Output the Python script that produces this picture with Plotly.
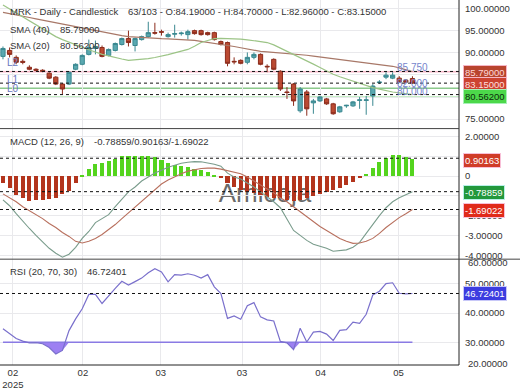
import plotly.graph_objects as go

# ---------------- data ----------------
opens = [89.20, 90.54, 88.98, 88.08, 86.74, 86.29, 86.07, 85.40, 84.50, 82.94,
         82.94, 86.29, 87.41, 89.65, 90.99, 91.21, 89.42, 90.54, 91.88, 93.23,
         91.66, 93.00, 93.67, 94.57, 94.79, 93.67, 94.23, 94.34, 94.12, 95.02,
         95.02, 94.57, 94.57, 92.55, 92.33, 88.08, 88.30, 87.86, 88.98, 89.65,
         86.96, 88.53, 85.84, 81.15, 82.94, 76.89, 81.15, 78.69, 79.13, 79.58,
         78.46, 76.67, 78.01, 78.01, 79.25, 79.25, 80.25, 83.27, 84.50, 84.28,
         84.28, 83.83, 84.19]
highs = [91.44, 91.21, 89.42, 88.53, 87.19, 86.51, 86.29, 85.62, 84.73, 83.16,
         85.84, 87.63, 89.65, 93.00, 92.78, 91.66, 90.99, 92.33, 93.45, 95.02,
         93.45, 93.90, 97.03, 96.80, 95.24, 94.57, 96.36, 94.79, 95.24, 95.24,
         95.24, 94.79, 94.79, 92.78, 92.55, 88.98, 88.53, 90.09, 90.09, 89.87,
         87.41, 88.75, 86.07, 82.26, 83.16, 82.26, 81.59, 79.58, 80.25, 79.80,
         78.69, 78.01, 78.24, 79.13, 80.03, 80.25, 82.94, 83.83, 85.62, 85.62,
         84.73, 84.05, 84.70]
lows = [88.53, 88.98, 87.41, 87.41, 86.07, 85.84, 85.62, 84.05, 82.71, 80.70,
        82.71, 86.07, 87.19, 89.42, 89.65, 88.98, 89.20, 90.32, 91.66, 91.44,
        90.32, 92.78, 93.45, 94.12, 93.90, 93.45, 93.45, 93.90, 93.00, 94.12,
        93.90, 93.90, 92.78, 91.66, 86.96, 87.41, 87.41, 87.41, 88.53, 87.19,
        85.62, 86.07, 81.37, 79.58, 78.01, 76.45, 75.78, 76.22, 78.91, 78.24,
        76.00, 76.45, 77.57, 77.79, 77.34, 76.00, 78.01, 82.94, 84.05, 84.05,
        83.16, 83.16, 82.96]
closes = [90.99, 89.65, 87.86, 87.86, 86.29, 86.07, 85.84, 84.28, 82.94, 81.82,
          85.62, 87.41, 89.42, 91.21, 91.44, 89.20, 90.77, 92.11, 93.23, 92.33,
          93.23, 93.67, 94.57, 94.46, 94.68, 94.12, 94.34, 94.46, 94.79, 94.34,
          94.12, 94.12, 93.00, 91.88, 87.63, 87.97, 87.63, 88.98, 89.65, 87.41,
          86.85, 86.29, 81.82, 81.03, 79.13, 81.82, 77.34, 79.13, 80.03, 78.46,
          76.22, 77.79, 78.13, 78.91, 79.36, 79.36, 82.49, 83.38, 84.95, 84.95,
          83.38, 83.38, 83.15]
sma40 = [99.15, 98.90, 98.60, 98.30, 98.00, 97.70, 97.40, 97.15, 96.92, 96.60,
         96.30, 96.00, 95.70, 95.40, 95.10, 94.79, 94.50, 94.20, 93.90, 93.67,
         93.55, 93.45, 93.35, 93.30, 93.20, 93.15, 93.10, 93.05, 93.00, 92.80,
         92.60, 92.40, 92.20, 91.95, 91.70, 91.44, 91.15, 90.85, 90.60, 90.32,
         90.20, 90.10, 90.00, 89.90, 89.80, 89.65, 89.45, 89.25, 89.05, 88.85,
         88.65, 88.50, 88.30, 88.10, 87.95, 87.75, 87.60, 87.40, 87.20, 86.96,
         86.60, 86.20, 85.79]
sma20 = [100.80, 99.90, 99.00, 98.10, 97.20, 96.30, 95.40, 94.50, 93.67, 93.00,
         92.40, 91.80, 91.20, 90.70, 90.20, 89.65, 89.30, 88.90, 88.60, 88.30,
         88.40, 88.50, 88.70, 88.95, 89.20, 89.60, 90.00, 90.40, 90.77, 91.50,
         92.33, 92.80, 93.23, 93.25, 93.25, 93.23, 93.10, 92.95, 92.75, 92.56,
         92.33, 91.80, 91.10, 90.40, 89.70, 88.98, 88.20, 87.45, 86.70, 85.90,
         85.17, 84.60, 84.10, 83.55, 83.00, 82.49, 82.15, 81.80, 81.45, 81.15,
         80.95, 80.75, 80.562]
macd = [-1.20, -1.50, -1.90, -2.30, -2.65, -3.00, -3.35, -3.65, -3.90, -4.10,
        -3.95, -3.60, -3.15, -2.80, -2.35, -2.15, -1.95, -1.55, -1.15, -0.80,
        -0.55, -0.25, -0.05, 0.15, 0.30, 0.45, 0.55, 0.65, 0.70, 0.73,
        0.72, 0.66, 0.60, 0.50, 0.15, -0.05, -0.15, -0.35, -0.55, -0.80,
        -1.05, -1.30, -1.60, -2.20, -2.75, -3.00, -3.25, -3.45, -3.55, -3.65,
        -3.80, -3.78, -3.73, -3.60, -3.35, -2.90, -2.43, -2.00, -1.60, -1.30,
        -1.10, -0.95, -0.78859]
signal = [-0.90, -1.10, -1.30, -1.55, -1.75, -1.95, -2.15, -2.40, -2.60, -2.85,
          -3.05, -3.30, -3.38, -3.30, -3.15, -2.95, -2.70, -2.45, -2.15, -1.85,
          -1.55, -1.25, -0.95, -0.65, -0.40, -0.20, -0.02, 0.12, 0.25, 0.32,
          0.38, 0.40, 0.40, 0.35, 0.28, 0.20, 0.12, -0.05, -0.25, -0.45,
          -0.65, -0.85, -1.10, -1.30, -1.55, -1.80, -2.05, -2.30, -2.55, -2.75,
          -2.95, -3.15, -3.30, -3.40, -3.38, -3.30, -3.15, -2.90, -2.60, -2.35,
          -2.10, -1.90, -1.69022]
hist = [-0.35, -0.60, -0.95, -1.10, -1.23, -1.18, -1.18, -1.15, -1.10, -0.90,
        -0.73, -0.35, 0.05, 0.40, 0.65, 0.68, 0.77, 0.90, 1.02, 1.02,
        1.02, 1.02, 1.02, 0.98, 0.82, 0.68, 0.57, 0.53, 0.48, 0.37,
        0.32, 0.23, 0.07, -0.05, -0.35, -0.52, -0.68, -0.77, -0.85, -0.93,
        -1.02, -1.07, -1.10, -1.18, -1.23, -1.18, -1.10, -0.97, -0.90, -0.77,
        -0.68, -0.57, -0.43, -0.27, -0.03, 0.15, 0.43, 0.73, 0.95, 1.10,
        1.08, 1.00, 0.90163]
rsi = [34.6, 33.0, 31.3, 30.4, 29.8, 29.9, 29.5, 28.2, 26.0, 27.2,
       34.0, 38.0, 41.5, 46.4, 46.4, 43.3, 46.0, 48.5, 50.9, 49.6,
       50.8, 52.0, 53.8, 55.2, 54.1, 50.7, 53.2, 53.0, 53.5, 53.0,
       52.0, 53.2, 49.0, 46.7, 38.2, 39.0, 37.9, 42.5, 43.6, 38.7,
       37.7, 37.3, 30.3, 29.8, 27.5, 34.8, 30.1, 33.5, 33.7, 32.8,
       30.6, 34.1, 34.3, 36.9, 36.5, 39.6, 46.2, 47.5, 50.1, 50.4,
       46.8, 46.6, 46.72401]
rsi_low = 30
level_values = [85.75, 82.0, 80.0]
level_names = ["L2", "L1", "L0"]
tick_pos = [1.5, 12.1, 23.9, 36.2, 48.1, 59.9]
tick_text = ["02<br>2025", "02", "03", "03", "04", "05"]
price_ticks = [75, 80, 85, 90, 95, 100]
price_hidden = [80, 85]          # labels covered by the value boxes
macd_ticks = [-4, -3, -2, -1, 0, 1, 2]
macd_hidden = [-1, 1]            # labels covered by the value boxes
rsi_ticks = [30, 40, 50]
rsi_extra_ticks = [60, 20]
symbol = "MRK"
bars_shown, bars_total = 63, 103

# ---------------- geometry ----------------
W, H = 520, 390
ML, MR, MT, MB = 0, 61, 0, 21
PW, PH = W - ML - MR, H - MT - MB
FONT = "Liberation Sans, Arial, sans-serif"
FS = 9.5


def px_x(x):
    return (x - ML) / PW


def px_y(y):
    return (PH - (y - MT)) / PH


d_price = [px_y(130), 1]
d_macd = [px_y(262), px_y(130)]
d_rsi = [0, px_y(262)]

n = len(closes)
idx = list(range(n))

fig = go.Figure()

# price panel
fig.add_trace(go.Candlestick(
    x=idx, open=opens, high=highs, low=lows, close=closes,
    xaxis="x", yaxis="y",
    increasing=dict(line=dict(color="#3a8890", width=1), fillcolor="#5aa8b0"),
    decreasing=dict(line=dict(color="#8c2c1c", width=1), fillcolor="#bb4a32"),
    whiskerwidth=0, showlegend=False, hoverinfo="skip"))
fig.add_trace(go.Scatter(x=idx, y=sma40, mode="lines", xaxis="x", yaxis="y",
                         line=dict(color="#a87868", width=1.2), showlegend=False))
fig.add_trace(go.Scatter(x=idx, y=sma20, mode="lines", xaxis="x", yaxis="y",
                         line=dict(color="#9cc486", width=1.2), showlegend=False))

# MACD panel
hist_colors = ["#54d41e" if v >= 0 else "#b3341c" for v in hist]
fig.add_trace(go.Bar(x=idx, y=hist, xaxis="x2", yaxis="y2", width=0.62,
                     marker=dict(color=hist_colors, line=dict(width=0)),
                     showlegend=False))
fig.add_trace(go.Scatter(x=idx, y=macd, mode="lines", xaxis="x2", yaxis="y2",
                         line=dict(color="#7a9c8c", width=1.1), showlegend=False))
fig.add_trace(go.Scatter(x=idx, y=signal, mode="lines", xaxis="x2", yaxis="y2",
                         line=dict(color="#b8705e", width=1.1), showlegend=False))

# RSI panel
fig.add_trace(go.Scatter(x=idx, y=[rsi_low] * n, mode="lines", xaxis="x3", yaxis="y3",
                         line=dict(color="#8a7ae4", width=1.5), showlegend=False))
fig.add_trace(go.Scatter(x=idx, y=[min(v, rsi_low) for v in rsi], mode="lines",
                         xaxis="x3", yaxis="y3", fill="tonexty",
                         fillcolor="#9d80f2", line=dict(width=0), showlegend=False))
fig.add_trace(go.Scatter(x=idx, y=rsi, mode="lines", xaxis="x3", yaxis="y3",
                         line=dict(color="#7a70cc", width=1.2), showlegend=False))

grid = "#e9e9ec"
xcommon = dict(range=[-0.45, 69.05], showgrid=True, gridcolor=grid, zeroline=False,
               tickvals=tick_pos, showline=False, ticks="")
yfont = dict(size=FS, color="#333", family=FONT)
ycommon = dict(side="right", showgrid=True, gridcolor=grid, zeroline=False,
               showline=False, ticks="", tickfont=yfont, ticklabelstandoff=5)


def fmt(v, hidden=()):
    if v in hidden:
        return ""
    return "0" if v == 0 else f"{v:.5f}"


fig.update_layout(
    width=W, height=H, margin=dict(l=ML, r=MR, t=MT, b=MB),
    paper_bgcolor="white", plot_bgcolor="white", showlegend=False,
    font=dict(family=FONT, size=FS, color="#333"),
    boxgap=0.2, boxgroupgap=0.2, bargap=0,
    xaxis=dict(domain=[0, 1], anchor="y", showticklabels=False,
               rangeslider=dict(visible=False), **xcommon),
    xaxis2=dict(domain=[0, 1], anchor="y2", matches="x", showticklabels=False, **xcommon),
    xaxis3=dict(domain=[0, 1], anchor="y3", matches="x", ticktext=tick_text,
                tickfont=dict(size=FS, color="#333", family=FONT), **xcommon),
    yaxis=dict(domain=d_price, anchor="x", range=[72.87, 101.95], tickvals=price_ticks,
               ticktext=[fmt(v, price_hidden) for v in price_ticks], **ycommon),
    yaxis2=dict(domain=d_macd, anchor="x2", range=[-4.2, 2.4], tickvals=macd_ticks,
                ticktext=[fmt(v, macd_hidden) for v in macd_ticks], **ycommon),
    yaxis3=dict(domain=d_rsi, anchor="x3", range=[22.2, 58.5], tickvals=rsi_ticks,
                ticktext=[fmt(v) for v in rsi_ticks], **ycommon),
)

shapes = []
# level lines (solid)
for val, col in zip(level_values, ["#f6b8c8", "#8cc98c", "#b4eab4"]):
    shapes.append(dict(type="line", xref="paper", yref="y", x0=0, x1=1, y0=val, y1=val,
                       line=dict(color=col, width=1.5), layer="below"))
# dashed current-value lines
for yref, vals in [("y", [sma40[-1], closes[-1], sma20[-1]]),
                   ("y2", [hist[-1], macd[-1], signal[-1]]),
                   ("y3", [rsi[-1]])]:
    for v in vals:
        shapes.append(dict(type="line", xref="paper", yref=yref, x0=0, x1=1, y0=v, y1=v,
                           line=dict(color="#111", width=1, dash="3px,3px")))
# frame lines
shapes.append(dict(type="line", xref="paper", yref="paper", x0=1, x1=1, y0=0, y1=1,
                   line=dict(color="#222", width=1)))
shapes.append(dict(type="line", xref="paper", yref="paper", x0=0, x1=1,
                   y0=px_y(130), y1=px_y(130), line=dict(color="#444", width=1)))
shapes.append(dict(type="line", xref="paper", yref="paper", x0=0, x1=px_x(520),
                   y0=px_y(262), y1=px_y(262), line=dict(color="#444", width=1)))
shapes.append(dict(type="line", xref="paper", yref="paper", x0=0, x1=1,
                   y0=0, y1=0, line=dict(color="#222", width=1)))
# watermark behind the MACD bars
shapes.append(dict(type="rect", xref="paper", yref="paper", x0=px_x(205), x1=px_x(325),
                   y0=px_y(207), y1=px_y(180), line=dict(width=0),
                   fillcolor="rgba(0,0,0,0)", layer="below",
                   label=dict(text="Amicoja", font=dict(size=26, color="#6a6a6a", family=FONT),
                              textposition="middle center")))
fig.update_layout(shapes=shapes)


def ann(text, x, y, color="#333", bg=None, border=None, size=FS):
    d = dict(text=text, x=px_x(x), y=px_y(y), xref="paper", yref="paper",
             xanchor="left", yanchor="middle", showarrow=False,
             font=dict(size=size, color=color, family=FONT))
    if bg:
        d.update(bgcolor=bg, borderpad=1)
    if border:
        d.update(bordercolor=border, borderwidth=1)
    return d


anns = [
    ann(f"{symbol} - Daily - Candlestick", 8, 12),
    ann(f"{bars_shown}/{bars_total} - O:{opens[-1]:.5f} - H:{highs[-1]:.5f} - "
        f"L:{lows[-1]:.5f} - C:{closes[-1]:.5f}", 126, 12),
    ann("SMA (40)", 8, 30), ann(f"{sma40[-1]:.5f}", 58, 30),
    ann("SMA (20)", 8, 46), ann(f"{sma20[-1]:.5f}", 58, 46),
    ann("MACD (12, 26, 9)", 8, 143),
    ann(f"{macd[-1]:.5f}/{hist[-1]:.5f}/{signal[-1]:.5f}", 92, 143),
    ann("RSI (20, 70, 30)", 8, 274), ann(f"{rsi[-1]:.5f}", 85, 274),
]
for name, yy in zip(level_names, [63, 80, 89]):
    anns.append(ann(name, 5, yy, color="#6a78c0", size=10))
for val, yy in zip(level_values, [68, 84, 93]):
    anns.append(ann(f"{val:.3f}", 395, yy, color="#7585cc", size=10))
# right-side value boxes
anns += [
    ann(f"{sma40[-1]:.5f}", 463, 73, color="#ffd6d6", bg="#b8442e", border="#f6b6c6"),
    ann(f"{closes[-1]:.5f}", 463, 85, color="#ffdede", bg="#cc4230", border="#f6b6c6"),
    ann(f"{sma20[-1]:.5f}", 463, 98, color="#0c2a0c", bg="#4cd84a", border="#a8f0b8"),
    ann(f"{hist[-1]:.5f}", 463, 162, color="#ffffff", bg="#d03c28", border="#f8c0d8"),
    ann(f"{macd[-1]:.5f}", 463, 195, color="#ffffff", bg="#22983c", border="#b8f0e8"),
    ann(f"{signal[-1]:.5f}", 463, 213, color="#ffffff", bg="#e02a1a", border="#f8c0d8"),
    ann(f"{rsi[-1]:.5f}", 463, 297, color="#ffffff", bg="#3c3ce0", border="#c8c8f8"),
    ann(f"{rsi_extra_ticks[0]:.5f}", 466, 265),
    ann(f"{rsi_extra_ticks[1]:.5f}", 466, 367),
]
fig.update_layout(annotations=anns)

fig.write_html("out.html", config={"displayModeBar": False},
               post_script=["document.body.style.margin='0';"])
